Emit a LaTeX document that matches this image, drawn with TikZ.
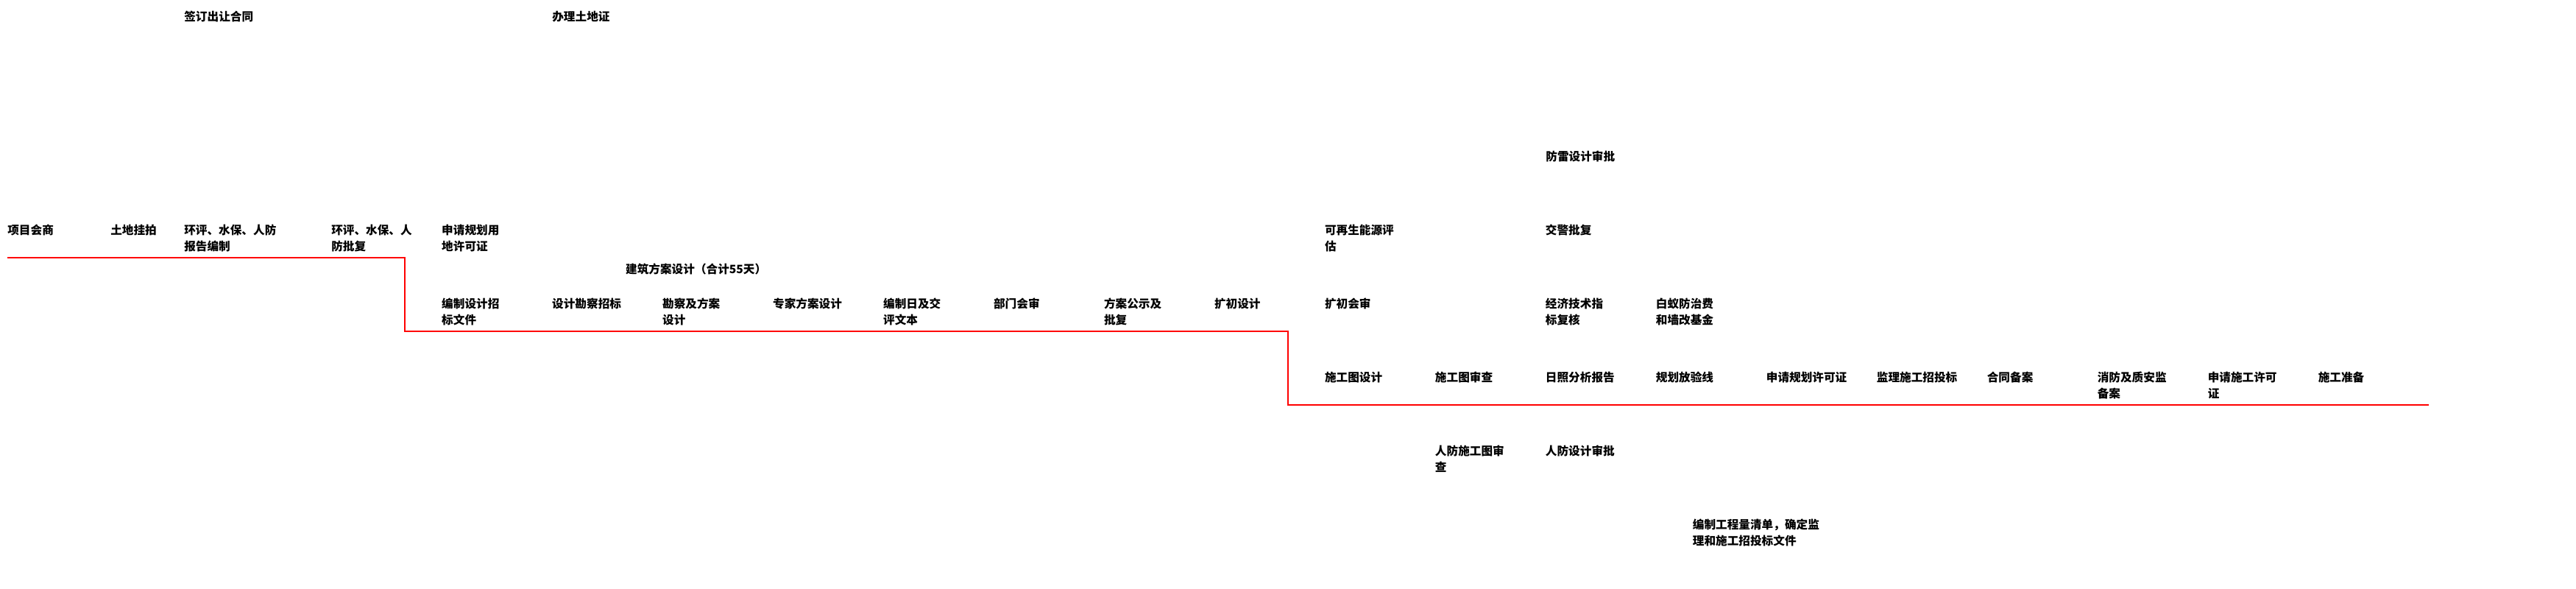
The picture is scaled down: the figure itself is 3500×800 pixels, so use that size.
\documentclass[tikz,border=0pt]{standalone}
\usepackage{fontspec}
\newfontfamily\cjk{Noto Sans CJK SC}
\usetikzlibrary{positioning}

\begin{document}
\begin{tikzpicture}[
    x=0.02cm, y=-0.02cm,
    stage/.style={anchor=north west, inner sep=0pt, align=left,
      font=\cjk\bfseries\fontsize{8.9pt}{12.5pt}\selectfont},
    timeline/.style={draw=red, line width=0.85pt},
  ]
  \useasboundingbox (0,0) rectangle (3500,800);

  % Land stage
  \node (xmhs) [stage] at (10,305) {项目会商};
  \node (tdgp) [stage, below right=0cm and 2.8cm of xmhs.north west] {土地挂拍};
  \node (hpbz) [stage, below right=0cm and 2cm of tdgp.north west] {环评、水保、人防\\报告编制};
  \node (hppf) [stage, below right=0cm and 4cm of hpbz.north west] {环评、水保、人\\防批复};
  \node (sqyd) [stage, below right=0cm and 3cm of hppf.north west] {申请规划用\\地许可证};
  \node (qdht) [stage] at (250,15) {签订出让合同};
  \node (bltd) [stage] at (750,15) {办理土地证};

  % Scheme stage
  \node (jzfa) [stage, below right=1.05cm and 5cm of sqyd.north west] {建筑方案设计（合计55天）};
  \node (bzzb) [stage, below right=2cm and 0cm of sqyd.north west] {编制设计招\\标文件};
  \node (sjkc) [stage, below right=0cm and 3cm of bzzb.north west] {设计勘察招标};
  \node (kcfa) [stage, below right=0cm and 3cm of sjkc.north west] {勘察及方案\\设计};
  \node (zjfa) [stage, below right=0cm and 3cm of kcfa.north west] {专家方案设计};
  \node (bzrj) [stage, below right=0cm and 3cm of zjfa.north west] {编制日及交\\评文本};
  \node (bmhs) [stage, below right=0cm and 3cm of bzrj.north west] {部门会审};
  \node (fags) [stage, below right=0cm and 3cm of bmhs.north west] {方案公示及\\批复};
  \node (kcsj) [stage, below right=0cm and 3cm of fags.north west] {扩初设计};
  \node (kchs) [stage, below right=0cm and 3cm of kcsj.north west] {扩初会审};
  \node (jjzb) [stage, below right=0cm and 6cm of kchs.north west] {经济技术指\\标复核};
  \node (byfz) [stage, below right=0cm and 3cm of jjzb.north west] {白蚁防治费\\和墙改基金};

  % Side approvals
  \node (zsdy) [stage, below right=0cm and 24cm of sqyd.north west] {可再生能源评\\估};
  \node (jjpf) [stage, below right=0cm and 6cm of zsdy.north west] {交警批复};
  \node (flsp) [stage] at (2100,205) {防雷设计审批};

  % Construction stage
  \node (sgsj) [stage, below right=2cm and 0cm of kchs.north west] {施工图设计};
  \node (sgsc) [stage, below right=0cm and 3cm of sgsj.north west] {施工图审查};
  \node (rzfx) [stage, below right=0cm and 3cm of sgsc.north west] {日照分析报告};
  \node (ghfx) [stage, below right=0cm and 3cm of rzfx.north west] {规划放验线};
  \node (sqgh) [stage, below right=0cm and 3cm of ghfx.north west] {申请规划许可证};
  \node (jlzb) [stage, below right=0cm and 3cm of sqgh.north west] {监理施工招投标};
  \node (htba) [stage, below right=0cm and 3cm of jlzb.north west] {合同备案};
  \node (xfba) [stage, below right=0cm and 3cm of htba.north west] {消防及质安监\\备案};
  \node (sqsg) [stage, below right=0cm and 3cm of xfba.north west] {申请施工许可\\证};
  \node (sgzb) [stage, below right=0cm and 3cm of sqsg.north west] {施工准备};
  \node (rfsc) [stage, below right=2cm and 0cm of sgsc.north west] {人防施工图审\\查};
  \node (rfsp) [stage, below right=2cm and 0cm of rzfx.north west] {人防设计审批};
  \node (gcqd) [stage, below right=2cm and 4cm of rfsp.north west] {编制工程量清单，确定监\\理和施工招投标文件};

  % Timeline
  \coordinate (tl0) at (10,350);
  \coordinate (tl1) at (550,450);
  \coordinate (tl2) at (1750,550);
  \coordinate (tl3) at (3300,550);
  \draw [timeline] (tl0) -| (tl1) -| (tl2) -- (tl3);
\end{tikzpicture}
\end{document}
